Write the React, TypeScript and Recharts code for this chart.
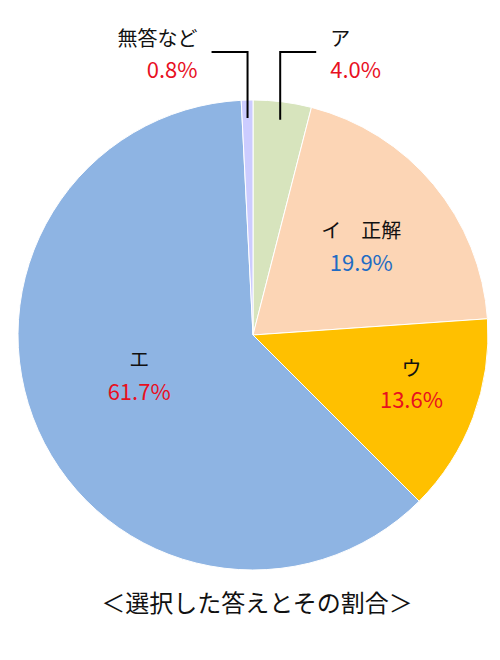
import React from "react";
import { PieChart, Pie, Cell } from "recharts";

const categories = ["ア", "イ　正解", "ウ", "エ", "無答など"];
const shares = [4.0, 19.9, 13.6, 61.7, 0.8];
const sliceColors = ["#d7e4bd", "#fcd5b5", "#ffc000", "#8eb4e3", "#ccccff"];
const percentColors = ["#e8101f", "#1f6cc4", "#e8101f", "#e8101f", "#e8101f"];
const outsideLabel = [true, false, false, false, true];
const labelRadius = [0, 0.6, 0.72, 0.53, 0];
const labelNudgeY = [0, 0, -12, -12, 0];
const title = "＜選択した答えとその割合＞";

const data = categories.map((name, i) => ({ name, value: shares[i] }));

const FONT = "'Noto Sans CJK JP', 'Noto Sans', sans-serif";
const RAD = Math.PI / 180;

const renderLabel = (props: any) => {
  const { cx, cy, midAngle, outerRadius, index } = props;
  const name = categories[index];
  const pct = shares[index].toFixed(1) + "%";
  const cos = Math.cos(-midAngle * RAD);
  const sin = Math.sin(-midAngle * RAD);
  if (outsideLabel[index]) {
    const r0 = outerRadius - 18;
    const x0 = cx + r0 * cos;
    const y0 = cy + r0 * sin;
    const yTop = cy - outerRadius - 48;
    const dir = cos >= 0 ? 1 : -1;
    const x1 = x0 + dir * 36;
    const tx = x1 + dir * 14;
    const anchor = dir > 0 ? "start" : "end";
    return (
      <g key={"lbl" + index}>
        <polyline
          points={`${x0},${y0} ${x0},${yTop} ${x1},${yTop}`}
          fill="none"
          stroke="#000"
          strokeWidth={2}
        />
        <text x={tx} y={yTop - 15} textAnchor={anchor} dominantBaseline="central" fontSize={20} fill="#111" fontFamily={FONT}>
          {name}
        </text>
        <text x={tx} y={yTop + 16} textAnchor={anchor} dominantBaseline="central" fontSize={22} fill={percentColors[index]} fontFamily={FONT}>
          {pct}
        </text>
      </g>
    );
  }
  const r = outerRadius * labelRadius[index];
  const x = cx + r * cos;
  const y = cy + r * sin + labelNudgeY[index];
  return (
    <g key={"lbl" + index}>
      <text x={x} y={y - 15} textAnchor="middle" dominantBaseline="central" fontSize={20} fill="#111" fontFamily={FONT}>
        {name}
      </text>
      <text x={x} y={y + 16} textAnchor="middle" dominantBaseline="central" fontSize={22} fill={percentColors[index]} fontFamily={FONT}>
        {pct}
      </text>
    </g>
  );
};

export default function App() {
  return (
    <div style={{ position: "absolute", left: 0, top: 0, width: 500, height: 660, background: "#fff" }}>
      <PieChart width={500} height={660} margin={{ top: 0, right: 0, bottom: 0, left: 0 }}>
        <Pie
          data={data}
          dataKey="value"
          nameKey="name"
          cx={253}
          cy={335}
          outerRadius={235}
          startAngle={90}
          endAngle={-270}
          stroke="#ffffff"
          strokeWidth={1}
          label={renderLabel}
          labelLine={false}
          isAnimationActive={false}
        >
          {data.map((d, i) => (
            <Cell key={d.name} fill={sliceColors[i]} />
          ))}
        </Pie>
      </PieChart>
      <div
        style={{
          position: "absolute",
          left: 0,
          top: 585,
          width: 514,
          textAlign: "center",
          fontFamily: FONT,
          fontSize: 24,
          lineHeight: "34px",
          color: "#111",
        }}
      >
        {title}
      </div>
    </div>
  );
}
